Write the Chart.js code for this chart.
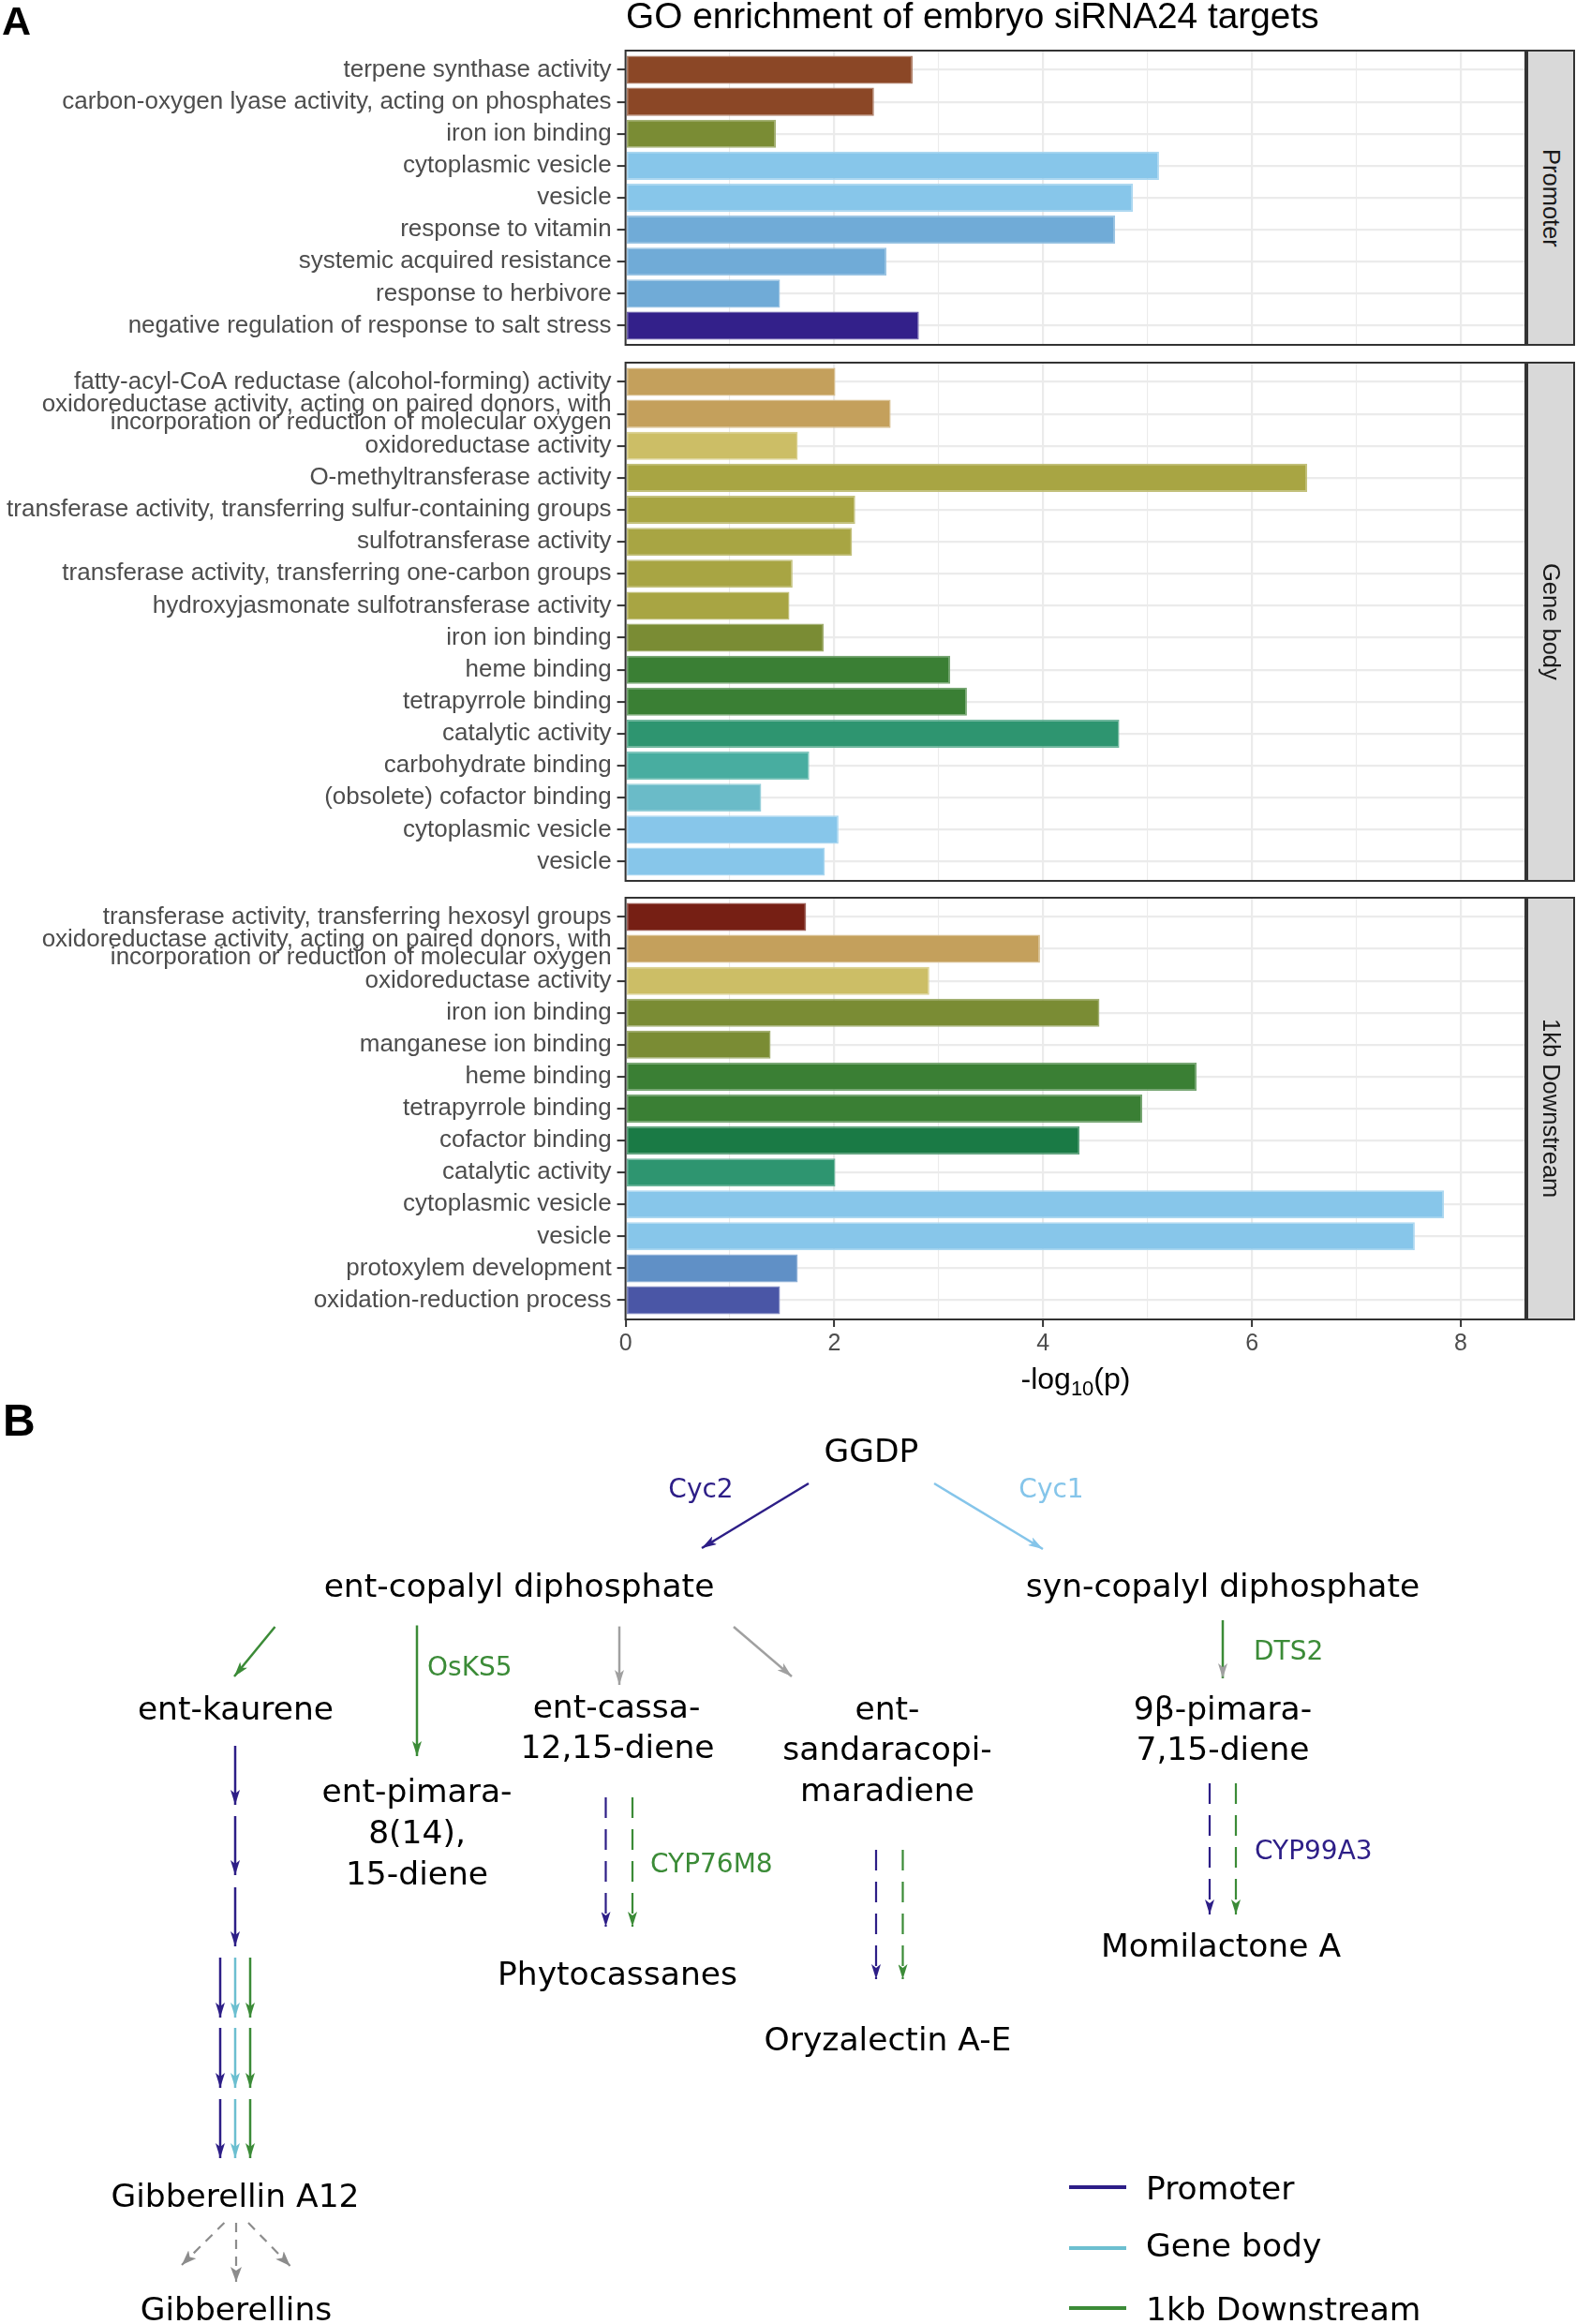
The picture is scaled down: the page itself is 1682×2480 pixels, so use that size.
<!DOCTYPE html>
<html>
<head>
<meta charset="utf-8">
<script src="https://cdn.jsdelivr.net/npm/chart.js@4.4.1/dist/chart.umd.min.js"></script>
<style>
  html, body { margin: 0; padding: 0; background: #ffffff; }
  #page { position: relative; width: 1682px; height: 2480px; overflow: hidden; background: #fff; }
  .panel { position: absolute; left: 0; }
  .strip { position: absolute; box-sizing: border-box; border: 2px solid #333333; background: #D9D9D9;
           display: flex; align-items: center; justify-content: center;
           font-family: 'Liberation Sans', Arial, sans-serif; font-size: 25.5px; color: #1A1A1A; }
  .strip span { writing-mode: vertical-rl; white-space: nowrap; }
  #overlay { position: absolute; left: 0; top: 0; }
</style>
</head>
<body>
<div id="page">
  <div class="panel" style="top:52px; width:1630px; height:318px;"><canvas id="c1"></canvas></div>
  <div class="panel" style="top:385px; width:1630px; height:557px;"><canvas id="c2"></canvas></div>
  <div class="panel" style="top:956px; width:1630px; height:512px;"><canvas id="c3"></canvas></div>

  <div class="strip" style="left:1629px; top:53px; width:52px; height:316px;"><span>Promoter</span></div>
  <div class="strip" style="left:1629px; top:386px; width:52px; height:555px;"><span>Gene body</span></div>
  <div class="strip" style="left:1629px; top:957px; width:52px; height:452px;"><span>1kb Downstream</span></div>

  <svg id="overlay" width="1682" height="2480" xmlns="http://www.w3.org/2000/svg">
    <defs>
      <marker id="mBlue" viewBox="0 0 16 10" refX="16" refY="5" markerWidth="16" markerHeight="10" markerUnits="userSpaceOnUse" orient="auto"><path d="M0,0 L16,5 L0,10 L4,5 Z" fill="#2D1E87"/></marker>
      <marker id="mLBlue" viewBox="0 0 16 10" refX="16" refY="5" markerWidth="16" markerHeight="10" markerUnits="userSpaceOnUse" orient="auto"><path d="M0,0 L16,5 L0,10 L4,5 Z" fill="#85C5EA"/></marker>
      <marker id="mGreen" viewBox="0 0 16 10" refX="16" refY="5" markerWidth="16" markerHeight="10" markerUnits="userSpaceOnUse" orient="auto"><path d="M0,0 L16,5 L0,10 L4,5 Z" fill="#3B8B37"/></marker>
      <marker id="mCyan" viewBox="0 0 16 10" refX="16" refY="5" markerWidth="16" markerHeight="10" markerUnits="userSpaceOnUse" orient="auto"><path d="M0,0 L16,5 L0,10 L4,5 Z" fill="#6CBFD0"/></marker>
      <marker id="mGray" viewBox="0 0 16 10" refX="16" refY="5" markerWidth="16" markerHeight="10" markerUnits="userSpaceOnUse" orient="auto"><path d="M0,0 L16,5 L0,10 L4,5 Z" fill="#A0A0A0"/></marker>
      <marker id="mDGray" viewBox="0 0 16 12" refX="16" refY="6" markerWidth="16" markerHeight="12" markerUnits="userSpaceOnUse" orient="auto"><path d="M0,0 L16,6 L0,12 L4,6 Z" fill="#8C8C8C"/></marker>
    </defs>

    <!-- Panel A texts -->
    <text x="2" y="37" font-family="Liberation Sans, Arial, sans-serif" font-weight="700" font-size="43" fill="#000">A</text>
    <text x="668" y="30" font-family="Liberation Sans, Arial, sans-serif" font-size="38.8" fill="#000">GO enrichment of embryo siRNA24 targets</text>
    <text x="1148" y="1482" text-anchor="middle" font-family="Liberation Sans, Arial, sans-serif" font-size="32" fill="#000">-log<tspan font-size="22" dy="7">10</tspan><tspan dy="-7">(p)</tspan></text>

    <!-- Panel B -->
    <text x="3" y="1532" font-family="Liberation Sans, Arial, sans-serif" font-weight="700" font-size="48" fill="#000">B</text>

    <g font-family="DejaVu Sans, sans-serif" font-size="34.5" fill="#000" text-anchor="middle">
      <text x="930" y="1560">GGDP</text>
      <text x="554" y="1704">ent-copalyl diphosphate</text>
      <text x="1305" y="1704">syn-copalyl diphosphate</text>
      <text x="251.5" y="1835">ent-kaurene</text>
      <text x="658" y="1833">ent-cassa-</text>
      <text x="659" y="1876">12,15-diene</text>
      <text x="947" y="1835">ent-</text>
      <text x="947" y="1878">sandaracopi-</text>
      <text x="947" y="1922">maradiene</text>
      <text x="1305" y="1835">9β-pimara-</text>
      <text x="1305" y="1878">7,15-diene</text>
      <text x="445" y="1923">ent-pimara-</text>
      <text x="445" y="1967">8(14),</text>
      <text x="445" y="2011">15-diene</text>
      <text x="659" y="2118">Phytocassanes</text>
      <text x="1303" y="2088">Momilactone A</text>
      <text x="947.5" y="2188">Oryzalectin A-E</text>
      <text x="251" y="2355">Gibberellin A12</text>
      <text x="252" y="2476">Gibberellins</text>
    </g>

    <g font-family="DejaVu Sans, sans-serif" font-size="28">
      <text x="748" y="1598" text-anchor="middle" fill="#2D1E87">Cyc2</text>
      <text x="1122" y="1598" text-anchor="middle" fill="#85C5EA">Cyc1</text>
      <text x="456" y="1788" fill="#3B8B37">OsKS5</text>
      <text x="1338" y="1771" fill="#3B8B37">DTS2</text>
      <text x="694" y="1998" fill="#3B8B37">CYP76M8</text>
      <text x="1339" y="1984" fill="#2D1E87">CYP99A3</text>
    </g>

    <g stroke-width="2.5" fill="none">
      <line x1="863" y1="1583" x2="749" y2="1652" stroke="#2D1E87" marker-end="url(#mBlue)"/>
      <line x1="997" y1="1583" x2="1113" y2="1653" stroke="#85C5EA" marker-end="url(#mLBlue)"/>
      <line x1="293.5" y1="1736" x2="250" y2="1789" stroke="#3B8B37" marker-end="url(#mGreen)"/>
      <line x1="445" y1="1734.5" x2="445" y2="1874" stroke="#3B8B37" marker-end="url(#mGreen)"/>
      <line x1="661" y1="1735.6" x2="661" y2="1798" stroke="#A0A0A0" marker-end="url(#mGray)"/>
      <line x1="783" y1="1736" x2="845" y2="1789" stroke="#A0A0A0" marker-end="url(#mGray)"/>
      <line x1="1305" y1="1729" x2="1305" y2="1791" stroke="#3B8B37" marker-end="url(#mGray)"/>

      <line x1="251" y1="1863" x2="251" y2="1926" stroke="#2D1E87" marker-end="url(#mBlue)"/>
      <line x1="251" y1="1938" x2="251" y2="2001" stroke="#2D1E87" marker-end="url(#mBlue)"/>
      <line x1="251" y1="2014" x2="251" y2="2077" stroke="#2D1E87" marker-end="url(#mBlue)"/>

      <line x1="235" y1="2089" x2="235" y2="2153" stroke="#2D1E87" marker-end="url(#mBlue)"/>
      <line x1="251" y1="2089" x2="251" y2="2153" stroke="#6CBFD0" marker-end="url(#mCyan)"/>
      <line x1="267" y1="2089" x2="267" y2="2153" stroke="#3B8B37" marker-end="url(#mGreen)"/>
      <line x1="235" y1="2164" x2="235" y2="2228" stroke="#2D1E87" marker-end="url(#mBlue)"/>
      <line x1="251" y1="2164" x2="251" y2="2228" stroke="#6CBFD0" marker-end="url(#mCyan)"/>
      <line x1="267" y1="2164" x2="267" y2="2228" stroke="#3B8B37" marker-end="url(#mGreen)"/>
      <line x1="235" y1="2240" x2="235" y2="2303" stroke="#2D1E87" marker-end="url(#mBlue)"/>
      <line x1="251" y1="2240" x2="251" y2="2303" stroke="#6CBFD0" marker-end="url(#mCyan)"/>
      <line x1="267" y1="2240" x2="267" y2="2303" stroke="#3B8B37" marker-end="url(#mGreen)"/>
    </g>

    <g stroke-width="2.2" fill="none" stroke-dasharray="22 12">
      <line x1="646.5" y1="1918" x2="646.5" y2="2056" stroke="#2D1E87" marker-end="url(#mBlue)"/>
      <line x1="675" y1="1918" x2="675" y2="2056" stroke="#3B8B37" marker-end="url(#mGreen)"/>
      <line x1="935" y1="1974" x2="935" y2="2112" stroke="#2D1E87" marker-end="url(#mBlue)"/>
      <line x1="963.5" y1="1974" x2="963.5" y2="2112" stroke="#3B8B37" marker-end="url(#mGreen)"/>
      <line x1="1291" y1="1903" x2="1291" y2="2043" stroke="#2D1E87" marker-end="url(#mBlue)"/>
      <line x1="1319" y1="1903" x2="1319" y2="2043" stroke="#3B8B37" marker-end="url(#mGreen)"/>
    </g>

    <g stroke-width="2.2" fill="none" stroke-dasharray="10 8" stroke="#8C8C8C">
      <line x1="239.4" y1="2372" x2="194" y2="2417" marker-end="url(#mDGray)"/>
      <line x1="252" y1="2372" x2="252" y2="2435" marker-end="url(#mDGray)"/>
      <line x1="265" y1="2372" x2="309.6" y2="2418" marker-end="url(#mDGray)"/>
    </g>

    <!-- Legend -->
    <g stroke-width="4">
      <line x1="1141" y1="2334" x2="1202" y2="2334" stroke="#2D1E87"/>
      <line x1="1141" y1="2399" x2="1202" y2="2399" stroke="#6CBFD0"/>
      <line x1="1141" y1="2463" x2="1202" y2="2463" stroke="#3B8B37"/>
    </g>
    <g font-family="DejaVu Sans, sans-serif" font-size="34.5" fill="#000">
      <text x="1223" y="2347">Promoter</text>
      <text x="1223" y="2408">Gene body</text>
      <text x="1223" y="2476">1kb Downstream</text>
    </g>
  </svg>
</div>

<script>
// ---------------- Data ----------------
const promoterLabels = [
  "terpene synthase activity",
  "carbon-oxygen lyase activity, acting on phosphates",
  "iron ion binding",
  "cytoplasmic vesicle",
  "vesicle",
  "response to vitamin",
  "systemic acquired resistance",
  "response to herbivore",
  "negative regulation of response to salt stress"
];
const promoterValues = [2.75, 2.38, 1.44, 5.11, 4.86, 4.69, 2.50, 1.48, 2.81];
const promoterColors = ["#8B4726", "#8B4726", "#7A8C34", "#87C6EA", "#87C6EA", "#70ABD7", "#70ABD7", "#70ABD7", "#33208A"];

const geneBodyLabels = [
  "fatty-acyl-CoA reductase (alcohol-forming) activity",
  ["oxidoreductase activity, acting on paired donors, with", "incorporation or reduction of molecular oxygen"],
  "oxidoreductase activity",
  "O-methyltransferase activity",
  "transferase activity, transferring sulfur-containing groups",
  "sulfotransferase activity",
  "transferase activity, transferring one-carbon groups",
  "hydroxyjasmonate sulfotransferase activity",
  "iron ion binding",
  "heme binding",
  "tetrapyrrole binding",
  "catalytic activity",
  "carbohydrate binding",
  "(obsolete) cofactor binding",
  "cytoplasmic vesicle",
  "vesicle"
];
const geneBodyValues = [2.01, 2.54, 1.65, 6.53, 2.20, 2.17, 1.60, 1.57, 1.90, 3.11, 3.27, 4.73, 1.76, 1.30, 2.04, 1.91];
const geneBodyColors = ["#C4A05C", "#C4A05C", "#CCBE66", "#A8A543", "#A8A543", "#A8A543", "#A8A543", "#A8A543",
                        "#7A8C34", "#3A7F34", "#3A7F34", "#2E9570", "#48ADA0", "#6ABBC8", "#87C6EA", "#87C6EA"];

const downstreamLabels = [
  "transferase activity, transferring hexosyl groups",
  ["oxidoreductase activity, acting on paired donors, with", "incorporation or reduction of molecular oxygen"],
  "oxidoreductase activity",
  "iron ion binding",
  "manganese ion binding",
  "heme binding",
  "tetrapyrrole binding",
  "cofactor binding",
  "catalytic activity",
  "cytoplasmic vesicle",
  "vesicle",
  "protoxylem development",
  "oxidation-reduction process"
];
const downstreamValues = [1.73, 3.97, 2.91, 4.54, 1.39, 5.47, 4.95, 4.35, 2.01, 7.84, 7.56, 1.65, 1.48];
const downstreamColors = ["#761F14", "#C4A05C", "#CCBE66", "#7A8C34", "#7A8C34", "#3A7F34", "#3A7F34", "#1A7A45",
                          "#2E9570", "#87C6EA", "#87C6EA", "#6090C6", "#4A56A6"];

const xTickValues = [0, 2, 4, 6, 8];
const xMax = 8.62;

// ---------------- Helpers ----------------
function lighten(hex, f) {
  const n = parseInt(hex.slice(1), 16);
  const r = n >> 16, g = (n >> 8) & 255, b = n & 255;
  const m = c => Math.round(c + (255 - c) * f);
  return `rgb(${m(r)},${m(g)},${m(b)})`;
}

const panelBorder = {
  id: 'panelBorder',
  afterDraw(chart) {
    const { ctx, chartArea: a } = chart;
    ctx.save();
    ctx.strokeStyle = '#333333';
    ctx.lineWidth = 2;
    ctx.strokeRect(a.left, a.top, a.right - a.left, a.bottom - a.top);
    ctx.restore();
  }
};

const tickFont = { family: 'Liberation Sans, Arial, sans-serif', size: 26 };

function makeChart(id, labels, values, colors, showX) {
  return new Chart(document.getElementById(id), {
    type: 'bar',
    data: {
      datasets: [{
        data: values.map((v, i) => ({ x: v, y: i })),
        backgroundColor: colors,
        borderColor: colors.map(c => lighten(c, 0.3)),
        borderWidth: 1.5,
        borderSkipped: false,
        barPercentage: 0.88,
        categoryPercentage: 1
      }]
    },
    options: {
      indexAxis: 'y',
      animation: false,
      responsive: true,
      maintainAspectRatio: false,
      layout: { padding: { top: 2, right: 2, bottom: showX ? 0 : 2, left: 0 }, autoPadding: false },
      plugins: { legend: { display: false }, tooltip: { enabled: false }, title: { display: false } },
      scales: {
        x: {
          type: 'linear', min: 0, max: xMax, bounds: 'data', position: 'bottom', offset: false,
          ticks: {
            display: showX, stepSize: 1, includeBounds: false, autoSkip: false, maxRotation: 0,
            callback: v => xTickValues.includes(v) ? String(v) : '',
            color: '#4D4D4D', font: { family: tickFont.family, size: 25 }, padding: 3
          },
          grid: {
            offset: false,
            color: '#EBEBEB',
            lineWidth: c => (c.tick && xTickValues.includes(c.tick.value)) ? 2.2 : 1.1,
            drawTicks: showX, tickLength: 8, tickWidth: 2,
            tickColor: c => (c.tick && xTickValues.includes(c.tick.value)) ? '#333333' : 'rgba(0,0,0,0)'
          },
          border: { display: false },
          afterFit: s => { s.height = showX ? 60 : 0; s.paddingLeft = 0; s.paddingRight = 0; }
        },
        y: {
          type: 'linear', min: -0.6, max: labels.length - 0.4, bounds: 'data', reverse: true, offset: false,
          afterBuildTicks: s => { s.ticks = labels.map((_, i) => ({ value: i })); },
          ticks: {
            autoSkip: false, callback: v => labels[v],
            color: '#4D4D4D', font: { family: tickFont.family, size: tickFont.size, lineHeight: 0.73 }, padding: 6
          },
          grid: { offset: false, color: '#EBEBEB', lineWidth: 2.2, tickLength: 9, tickWidth: 2, tickColor: '#333333' },
          border: { display: false },
          afterFit: s => { s.width = 667.6; s.paddingTop = 0; s.paddingBottom = 0; }
        }
      }
    },
    plugins: [panelBorder]
  });
}

makeChart('c1', promoterLabels, promoterValues, promoterColors, false);
makeChart('c2', geneBodyLabels, geneBodyValues, geneBodyColors, false);
makeChart('c3', downstreamLabels, downstreamValues, downstreamColors, true);
</script>
</body>
</html>
